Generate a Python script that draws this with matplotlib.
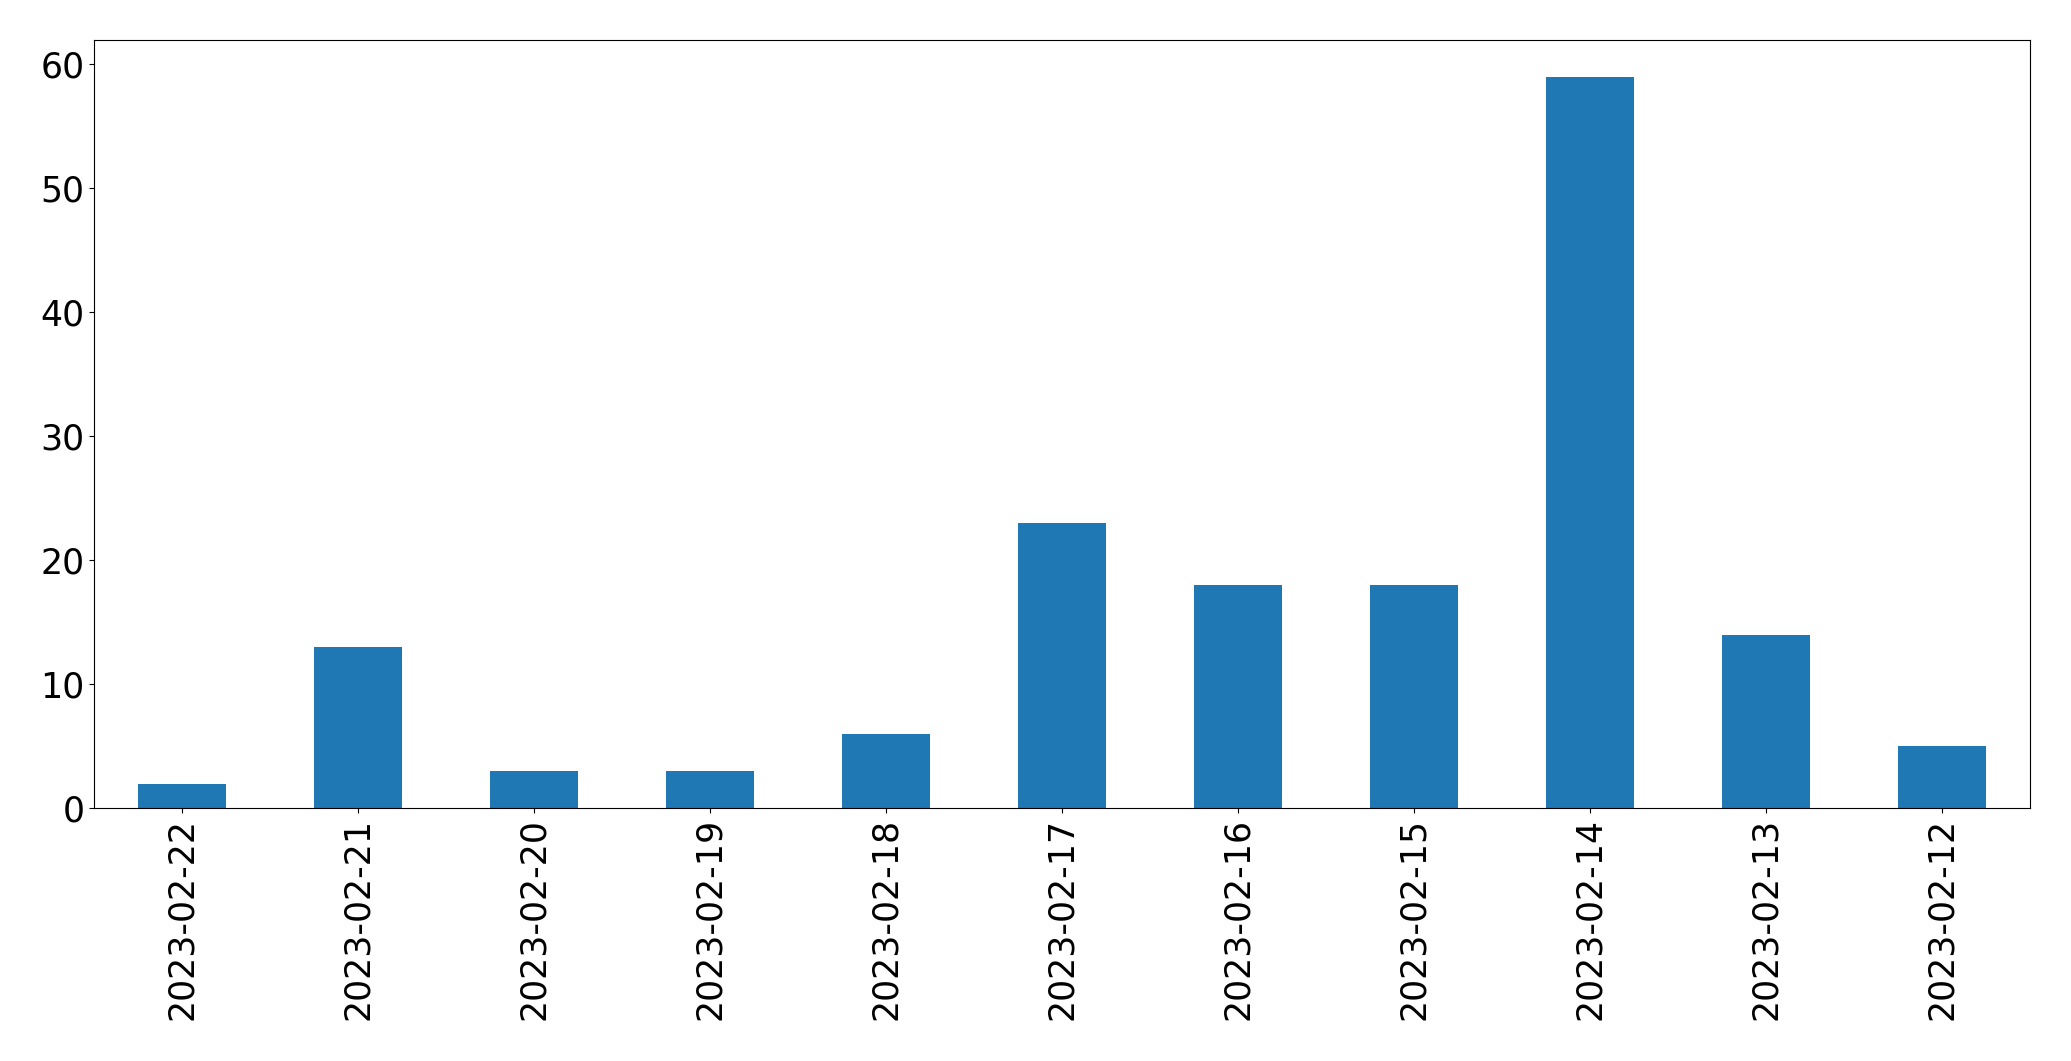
import matplotlib
matplotlib.use("Agg")
import matplotlib.pyplot as plt

dates = ["2023-02-22", "2023-02-21", "2023-02-20", "2023-02-19", "2023-02-18",
         "2023-02-17", "2023-02-16", "2023-02-15", "2023-02-14", "2023-02-13",
         "2023-02-12"]
counts = [2, 13, 3, 3, 6, 23, 18, 18, 59, 14, 5]

fig = plt.figure(figsize=(20.71, 10.61), dpi=100)
ax = fig.add_axes([0.0455, 0.238, 0.9345, 0.724])
x = list(range(len(dates)))
ax.bar(x, counts, width=0.5, color="#1f77b4")
ax.set_xlim(-0.5, len(dates) - 0.5)
ax.set_ylim(0, max(counts) * 1.05)
ax.set_xticks(x)
ax.set_xticklabels(dates, rotation=90)
ax.tick_params(labelsize=25)
fig.savefig("out.png", dpi=100)
